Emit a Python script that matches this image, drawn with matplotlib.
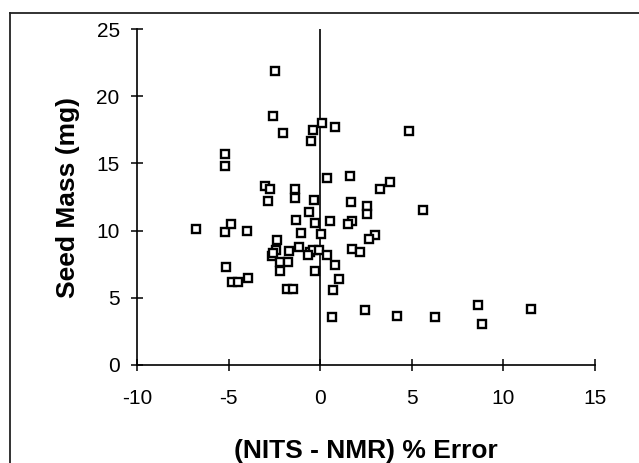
import matplotlib
matplotlib.use("Agg")
import matplotlib.pyplot as plt
from matplotlib.lines import Line2D

plt.rcParams['font.family'] = ['Liberation Sans', 'DejaVu Sans']

# (NITS - NMR) % error vs seed mass (mg)
pct_error = [
    -6.8, -5.2, -5.2, -5.2, -4.85, -5.15, -4.8, -4.5, -3.95, -4.0,
    -2.45, -2.58, -2.03, 0.1, 0.8, -0.38, -0.48, 4.87,
    0.4, 1.63, -3.0, -2.75, -2.86, -1.36, -1.36, -0.35, 1.68, 2.55, 2.55,
    3.28, 3.8, 5.6, -0.62, -1.3, -0.28, 0.53, 1.72, 1.54, -1.03, 0.04,
    3.0, 2.65, -2.35, -2.4, -2.62, -2.2, -2.2, -1.72, -1.74, -1.14,
    -0.57, -0.38, -0.05, -0.66, -0.3, 0.4, 0.8, 1.03, 0.71, -1.82,
    -1.5, 1.74, 2.18, -2.55,
    0.62, 2.47, 4.2, 6.25, 8.6, 8.83, 11.52,
]
seed_mass = [
    10.1, 15.7, 14.8, 9.9, 10.5, 7.3, 6.15, 6.15, 6.45, 10.0,
    21.9, 18.5, 17.3, 18.0, 17.7, 17.5, 16.7, 17.4,
    13.9, 14.1, 13.3, 13.1, 12.2, 13.1, 12.4, 12.3, 12.1, 11.85, 11.25,
    13.1, 13.6, 11.5, 11.4, 10.8, 10.6, 10.7, 10.7, 10.5, 9.85, 9.75,
    9.65, 9.4, 9.3, 8.55, 8.08, 7.7, 6.97, 8.45, 7.7, 8.78,
    8.38, 8.55, 8.58, 8.2, 7.0, 8.15, 7.47, 6.4, 5.6, 5.68,
    5.68, 8.6, 8.42, 8.3,
    3.57, 4.07, 3.65, 3.55, 4.45, 3.05, 4.15,
]

x_ticks = [-10, -5, 0, 5, 10, 15]
y_ticks = [0, 5, 10, 15, 20, 25]

fig = plt.figure(figsize=(6.39, 4.63), dpi=100)
ax = fig.add_axes([0.2144, 0.2117, 0.7166, 0.7256])

ax.plot(pct_error, seed_mass, linestyle='none', marker='s', markersize=6,
        markerfacecolor='white', markeredgecolor='black', markeredgewidth=1.7)

# zero line
ax.axvline(0, color='black', lw=1.2, zorder=1)

ax.set_xlim(-10, 15)
ax.set_ylim(0, 25)
ax.set_xticks(x_ticks)
ax.set_yticks(y_ticks)
ax.set_xticklabels([str(t) for t in x_ticks])

for side in ['top', 'right']:
    ax.spines[side].set_visible(False)
for side in ['left', 'bottom']:
    ax.spines[side].set_linewidth(1.2)
    ax.spines[side].set_color('black')

ax.tick_params(axis='both', direction='inout', length=9, width=1.1,
               labelsize=15, colors='black')
ax.tick_params(axis='x', pad=13)
ax.tick_params(axis='y', pad=8)

ax.set_xlabel('(NITS - NMR) % Error', fontsize=19, fontweight='bold', labelpad=22)
ax.set_ylabel('Seed Mass (mg)', fontsize=19, fontweight='bold', labelpad=12)

# frame around the figure (top and left edges visible in the scan)
fig.add_artist(Line2D([0.0156, 0.0156], [0, 0.972], transform=fig.transFigure,
                      color='#222222', lw=1.3))
fig.add_artist(Line2D([0.0156, 1.0], [0.972, 0.972], transform=fig.transFigure,
                      color='#222222', lw=1.3))

fig.savefig('out.png', dpi=100)
